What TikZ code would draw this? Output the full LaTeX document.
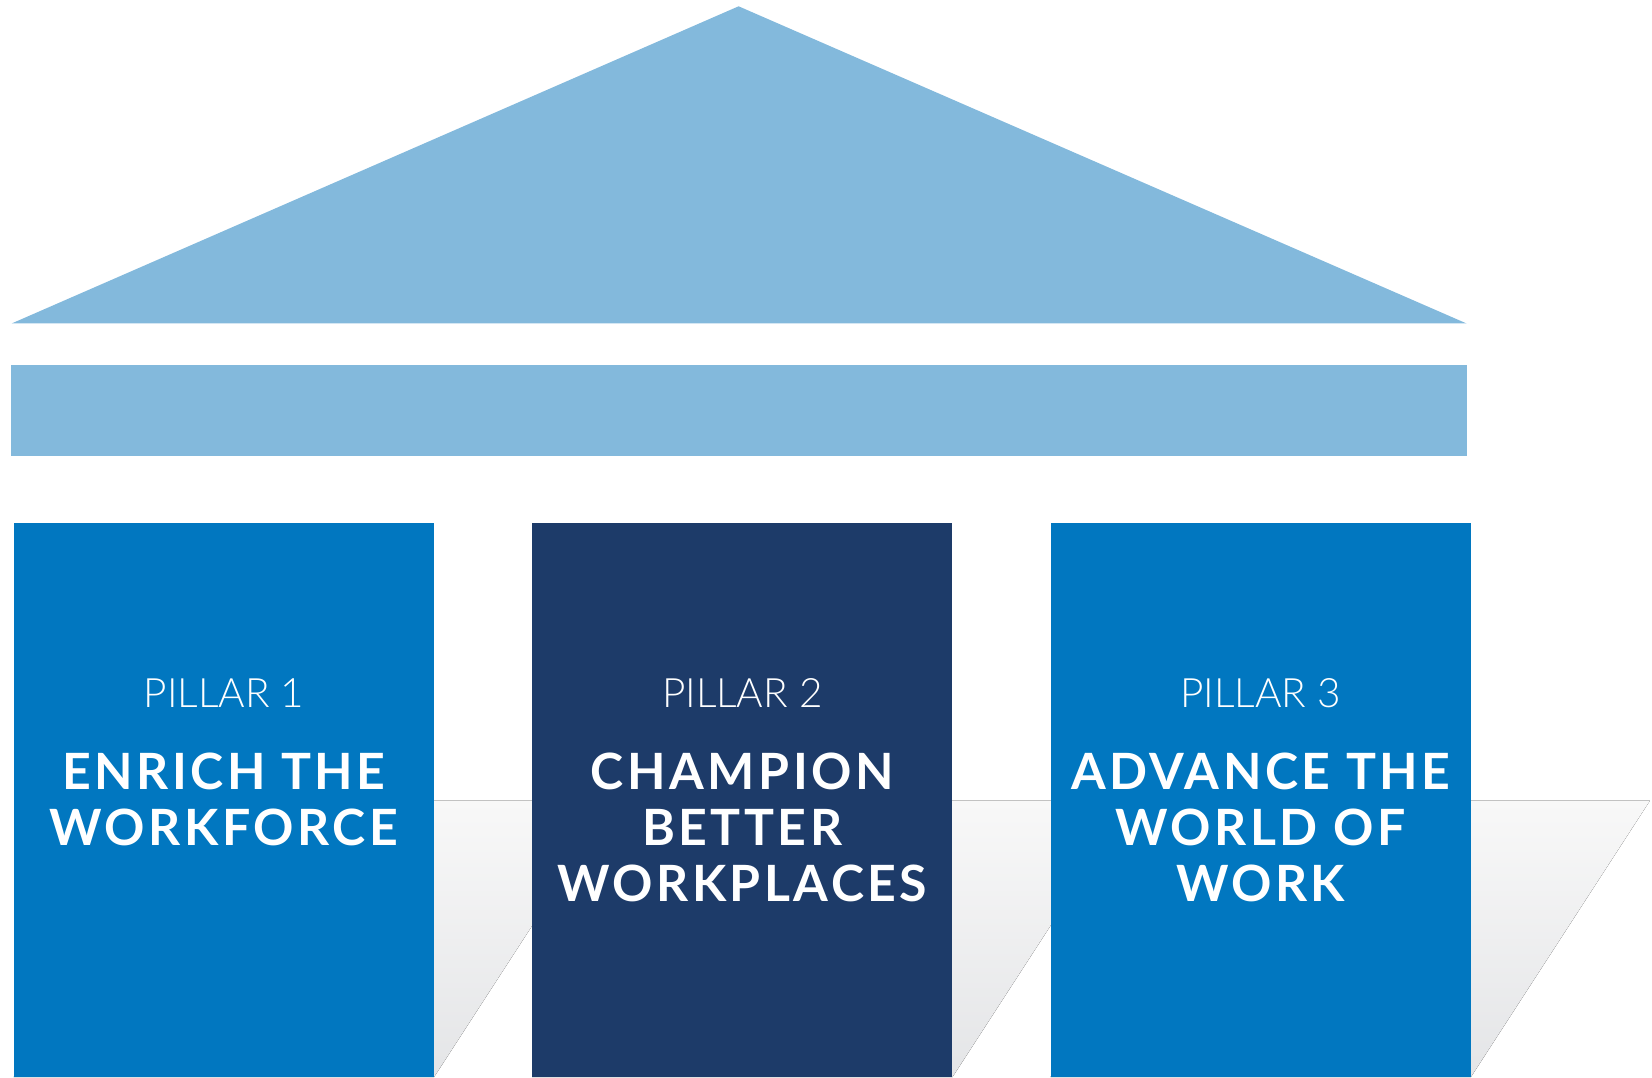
\documentclass[tikz,border=0pt]{standalone}
\usepackage{fontspec}
\setmainfont{Lato}
\newfontfamily\pillarlight{Lato Light}
\newfontfamily\pillarbold{Lato}[LetterSpace=7.0]
\usepackage{tikz}
\usetikzlibrary{positioning,backgrounds}
\definecolor{roofblue}{HTML}{83B9DC}
\definecolor{pillarblue}{HTML}{0177C0}
\definecolor{pillarnavy}{HTML}{1D3B69}
\definecolor{shadowtop}{HTML}{F8F8F8}
\definecolor{shadowbottom}{HTML}{E4E5E7}
\tikzstyle{pillar}   = [rectangle,
                        inner sep=0pt,
                        minimum width=420pt,
                        minimum height=553.4pt,
                        anchor=south west]
\tikzstyle{label}    = [text=white, inner sep=0pt, anchor=base,
                        font=\pillarlight\fontsize{40.5}{50}\selectfont]
\tikzstyle{title}    = [text=white, inner sep=0pt, anchor=north, align=center,
                        font=\pillarbold\bfseries\fontsize{50}{56}\selectfont]

\begin{document}
\begin{tikzpicture}[%
  x=1pt,
  y=1pt,
  node distance = 98pt,
  % Shadow behind a pillar:
  shadow/.style={%
    top color=shadowtop,
    bottom color=shadowbottom
  }
  ]
  \useasboundingbox (0,0) rectangle (1652,1077);

  % Roof:
  \fill[roofblue] (11.6,753.5) -- (738.6,1070.7) -- (1466.6,753.5) -- cycle;
  \node (beam) [rectangle, fill=roofblue, inner sep=0pt, minimum width=1456.2pt,
                minimum height=90.5pt] at (738.6,666.25) {};

  % Nodes:
  \node (pillar1) [pillar, fill=pillarblue] at (13.7,0) {};
  \node (pillar2) [pillar, fill=pillarnavy, right=of pillar1] {};
  \node (pillar3) [pillar, fill=pillarblue, right=of pillar2] {};

  \node (pillar1-label) [label] at ([yshift=-184.4pt]pillar1.north) {PILLAR 1};
  \node (pillar2-label) [label] at ([yshift=-184.4pt]pillar2.north) {PILLAR 2};
  \node (pillar3-label) [label] at ([yshift=-184.4pt]pillar3.north) {PILLAR 3};

  \node (pillar1-title) [title] at ([yshift=-230pt]pillar1.north) {ENRICH THE\\WORKFORCE};
  \node (pillar2-title) [title] at ([yshift=-230pt]pillar2.north) {CHAMPION\\BETTER\\WORKPLACES};
  \node (pillar3-title) [title] at ([yshift=-230pt]pillar3.north) {ADVANCE THE\\WORLD OF\\WORK};

  % Shadows:
  \begin{scope}[on background layer]
    \foreach \p in {pillar1,pillar2,pillar3}
      \fill[shadow] (\p.south west) -- (\p.south east)
        -- ([xshift=179pt,yshift=276.3pt]\p.south east)
        -- ([xshift=179pt,yshift=276.3pt]\p.south west) -- cycle;
  \end{scope}
\end{tikzpicture}
\end{document}
